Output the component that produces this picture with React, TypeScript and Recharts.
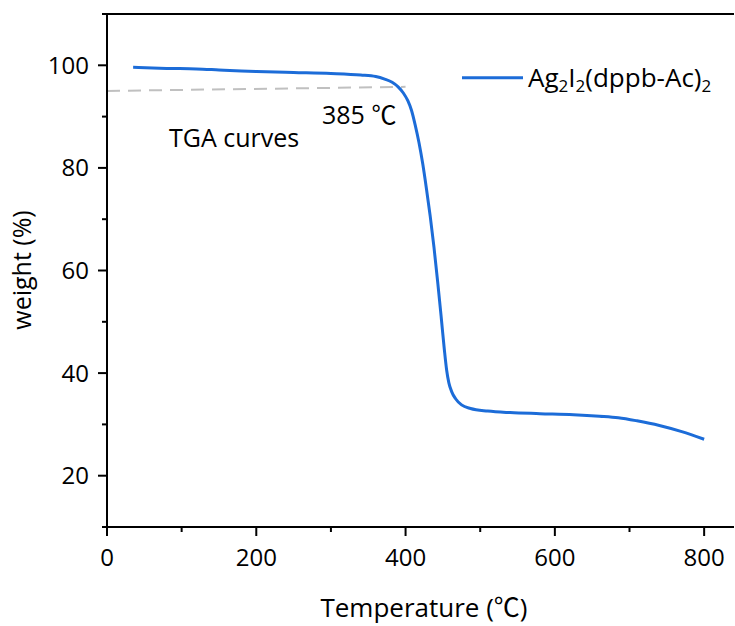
import React from "react";
import { LineChart, Line, XAxis, YAxis, ReferenceLine, Legend } from "recharts";

// TGA curve
const temps = [
  35, 80, 120, 150, 180, 200, 250, 300, 340, 360, 372, 382, 390, 397, 403, 408,
  413, 418, 423, 428, 433, 438, 443, 448, 452, 455, 458, 462, 467, 475, 487,
  510, 540, 580, 625, 660, 685, 710, 740, 770, 800,
];
const weights = [
  99.6, 99.4, 99.3, 99.1, 98.9, 98.8, 98.6, 98.4, 98.1, 97.8, 97.3, 96.7, 95.8,
  94.6, 93.1, 91.2, 88.3, 84.9, 80.8, 75.9, 70.6, 64.6, 57.8, 50.5, 44.5, 40.6,
  38.1, 36.3, 35.0, 33.8, 33.1, 32.6, 32.3, 32.1, 31.9, 31.6, 31.3, 30.7, 29.8,
  28.6, 27.1,
];

// onset tangent (dashed grey)
const onsetTemps = [0, 400];
const onsetWeights = [95.0, 95.8];

const xTicks = [0, 100, 200, 300, 400, 500, 600, 700, 800];
const xMajor = [0, 200, 400, 600, 800];
const yTicks = [10, 20, 30, 40, 50, 60, 70, 80, 90, 100, 110];
const yMajor = [20, 40, 60, 80, 100];

const seriesName = "Ag2I2(dppb-Ac)2";

const tga = temps.map((t, i) => ({ t, w: weights[i] }));
const onset = onsetTemps.map((t, i) => ({ t, w: onsetWeights[i] }));

const FONT = '"Open Sans", "Noto Sans CJK SC", sans-serif';
const BLUE = "#1c6cd8";
const INK = "#000";

const XTick = (props: any) => {
  const { x, y, payload } = props;
  const major = xMajor.includes(payload.value);
  return (
    <g>
      <line x1={x} x2={x} y1={y} y2={y + (major ? 9 : 5)} stroke={INK} strokeWidth={2} />
      {major && (
        <text x={x} y={y + 39} textAnchor="middle" fontSize={24} fontFamily={FONT} fill={INK}>
          {payload.value}
        </text>
      )}
    </g>
  );
};

const YTick = (props: any) => {
  const { x, y, payload } = props;
  const major = yMajor.includes(payload.value);
  return (
    <g>
      <line x1={x} x2={x - (major ? 9 : 5)} y1={y} y2={y} stroke={INK} strokeWidth={2} />
      {major && (
        <text x={x - 18} y={y + 8.5} textAnchor="end" fontSize={24} fontFamily={FONT} fill={INK}>
          {payload.value}
        </text>
      )}
    </g>
  );
};

const renderLegend = () => (
  <svg width={280} height={40}>
    <line x1={7} x2={68} y1={17.7} y2={17.7} stroke={BLUE} strokeWidth={3} />
    <text x={73} y={27} fontSize={26} fontFamily={FONT} fill={INK}>
      Ag<tspan fontSize={17} dy={5}>2</tspan>
      <tspan dy={-5}>I</tspan>
      <tspan fontSize={17} dy={5}>2</tspan>
      <tspan dy={-5}>(dppb-Ac)</tspan>
      <tspan fontSize={17} dy={5}>2</tspan>
    </text>
  </svg>
);

const App: React.FC = () => {
  return (
    <div style={{ position: "absolute", left: 0, top: 0, width: 735, height: 626, overflow: "hidden" }}>
      <LineChart
        width={735}
        height={626}
        margin={{ top: 14, right: 1, left: 0, bottom: 0 }}
      >
        <XAxis
          dataKey="t"
          type="number"
          domain={[0, 840]}
          ticks={xTicks}
          interval={0}
          allowDataOverflow
          height={99}
          tickSize={0}
          tickMargin={0}
          tickLine={false}
          tick={<XTick />}
          stroke={INK}
          axisLine={{ stroke: INK, strokeWidth: 2 }}
        />
        <YAxis
          type="number"
          domain={[10, 110]}
          ticks={yTicks}
          interval={0}
          allowDataOverflow
          width={107}
          tickSize={0}
          tickMargin={0}
          tickLine={false}
          tick={<YTick />}
          stroke={INK}
          axisLine={{ stroke: INK, strokeWidth: 2 }}
        />
        <ReferenceLine y={110} stroke={INK} strokeWidth={2} />
        <Line
          data={onset}
          dataKey="w"
          name="onset"
          type="linear"
          stroke="#c0c0c0"
          strokeWidth={2}
          strokeDasharray="13 8"
          dot={false}
          legendType="none"
          isAnimationActive={false}
        />
        <Line
          data={tga}
          dataKey="w"
          name={seriesName}
          type="monotone"
          stroke={BLUE}
          strokeWidth={3}
          dot={false}
          isAnimationActive={false}
        />
        <Legend
          layout="vertical"
          align="center"
          verticalAlign="middle"
          content={renderLegend}
          wrapperStyle={{ position: "absolute", left: 455, top: 60, width: 280, height: 40 }}
        />
      </LineChart>
      <svg
        width={735}
        height={626}
        style={{ position: "absolute", left: 0, top: 0, pointerEvents: "none" }}
      >
        <text x={322} y={124} fontSize={25} fontFamily={FONT} fill={INK}>
          385 ℃
        </text>
        <text x={169} y={147} fontSize={25} fontFamily={FONT} fill={INK}>
          TGA curves
        </text>
        <text x={424} y={617} textAnchor="middle" fontSize={26} fontFamily={FONT} fill={INK}>
          Temperature (℃)
        </text>
        <text
          x={31}
          y={270}
          transform="rotate(-90 31 270)"
          textAnchor="middle"
          fontSize={25}
          fontFamily={FONT}
          fill={INK}
        >
          weight (%)
        </text>
      </svg>
    </div>
  );
};

export default App;
